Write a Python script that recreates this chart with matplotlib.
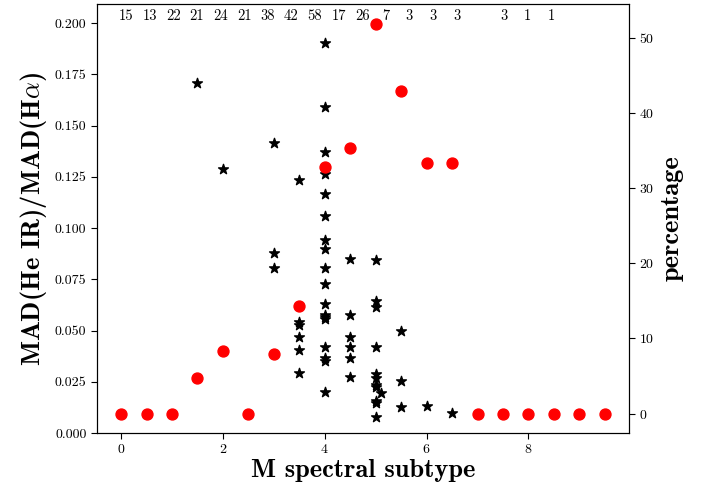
import numpy as np
import matplotlib
matplotlib.use('Agg')
import matplotlib.pyplot as plt

plt.rcParams['font.family'] = 'serif'
plt.rcParams['font.serif'] = ['cmr10']
plt.rcParams['mathtext.fontset'] = 'cm'
plt.rcParams['axes.formatter.use_mathtext'] = True

# razao MAD(He IR)/MAD(Halpha) por estrela
star_x = [1.5, 2.0,
          3.0, 3.0, 3.0,
          3.5, 3.5, 3.5, 3.5, 3.5, 3.5,
          4.0, 4.0, 4.0, 4.0, 4.0, 4.0, 4.0, 4.0, 4.0,
          4.0, 4.0, 4.0, 4.0, 4.0, 4.0, 4.0, 4.0, 4.0,
          4.5, 4.5, 4.5, 4.5, 4.5, 4.5,
          5.0, 5.0, 5.0, 5.0, 5.0, 5.0, 5.0, 5.0, 5.0, 5.0, 5.0,
          5.1,
          5.5, 5.5, 5.5,
          6.0, 6.5]
star_y = [0.171, 0.1288,
          0.1415, 0.0876, 0.0803,
          0.1236, 0.0543, 0.0526, 0.0469, 0.0404, 0.0291,
          0.1902, 0.1590, 0.1369, 0.1266, 0.1168, 0.1058, 0.0941, 0.0897, 0.0806,
          0.0725, 0.0629, 0.0575, 0.0567, 0.0554, 0.0421, 0.0364, 0.0352, 0.0201,
          0.0851, 0.0575, 0.0469, 0.0418, 0.0364, 0.0271,
          0.0846, 0.0643, 0.0616, 0.0421, 0.0288, 0.0267, 0.0234, 0.0223, 0.0157, 0.0145, 0.0080,
          0.0193,
          0.0499, 0.0253, 0.0125,
          0.0132, 0.0099]

# porcentagem por subtipo
subtipo = np.arange(0, 10, 0.5)
porcentagem = [0, 0, 0, 4.76, 8.33, 0, 7.89, 14.29, 32.76, 35.29,
               51.9, 42.86, 33.33, 33.33, 0, 0, 0, 0, 0, 0]

# numero de estrelas em cada subtipo (vazio = sem contagem)
contagem = ['15', '13', '22', '21', '24', '21', '38', '42', '58', '17',
            '26', '7', '3', '3', '3', '', '3', '1', '1']

fig = plt.figure(figsize=(7.02, 4.88), dpi=100)
ax = fig.add_axes([0.138, 0.1127, 0.758, 0.879])

ax.scatter(star_x, star_y, marker='*', s=55, color='k', zorder=3)
ax.set_ylim(0, 0.2093)
ax.set_xlabel('M spectral subtype', fontsize=19, family='cmb10', labelpad=2)
ax.set_ylabel(r'MAD(He IR)/MAD(H$\alpha$)', fontsize=19, family='cmb10')
ax.tick_params(direction='out', length=4, labelsize=10)
ax.set_yticks(np.arange(0, 0.201, 0.025))
ax.yaxis.set_major_formatter(matplotlib.ticker.FormatStrFormatter('%.3f'))

for i, c in enumerate(contagem):
    ax.text(0.1 + 0.4636 * i, 0.963, c, transform=ax.get_xaxis_transform(),
            ha='center', va='baseline', fontsize=10.5)

ax2 = ax.twinx()
ax2.scatter(subtipo, porcentagem, marker='o', s=62, color='red', zorder=3)
ax2.set_ylabel('percentage', fontsize=19, family='cmb10')
ax2.tick_params(direction='out', length=4, labelsize=10)
ax.set_xlim(-0.475, 9.975)

plt.savefig('out.png', dpi=100)
